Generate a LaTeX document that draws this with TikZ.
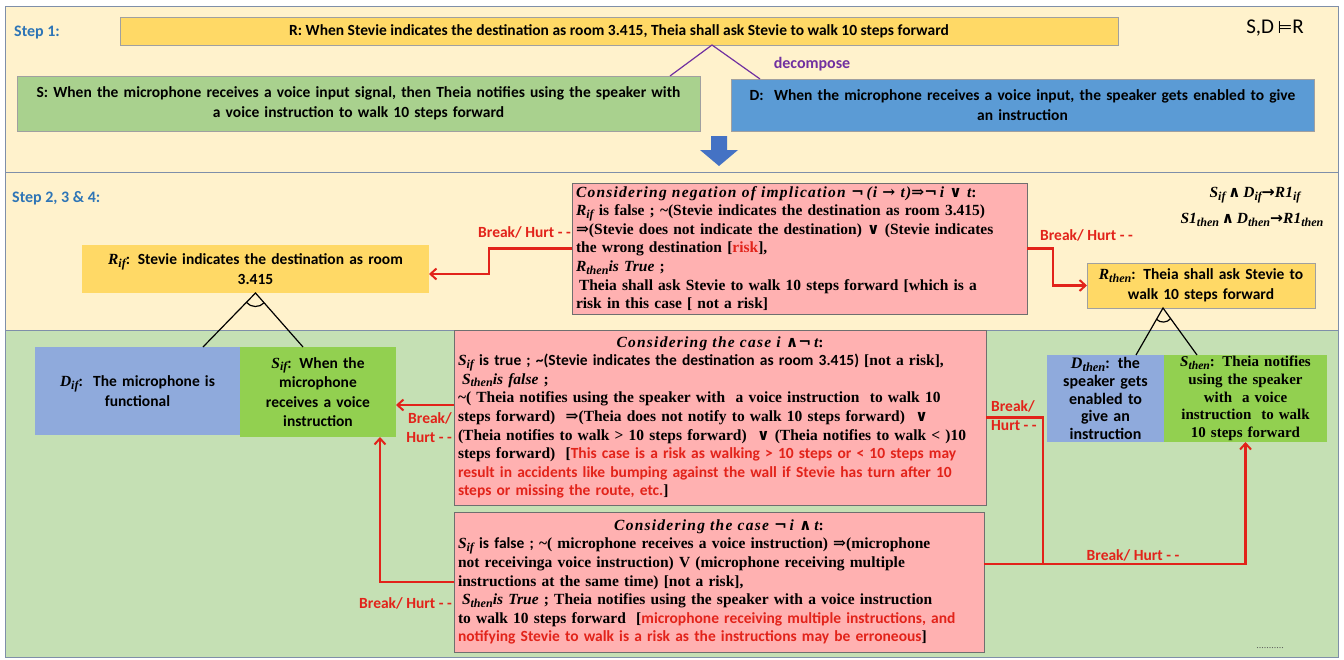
\documentclass[tikz,border=0pt]{standalone}
\usepackage{fontspec}
\usepackage{graphicx}
\setmainfont{Liberation Serif}
\newfontfamily\calib{Carlito}
\newfontfamily\djv{DejaVu Sans}
\newfontfamily\djs{DejaVu Serif}
\usetikzlibrary{arrows.meta,calc}
\definecolor{paneY}{HTML}{FFF2CC}
\definecolor{paneG}{HTML}{C5E0B4}
\definecolor{paneEdge}{HTML}{7F8FA9}
\definecolor{yelbox}{HTML}{FFD966}
\definecolor{grnS}{HTML}{A9D18E}
\definecolor{bluD}{HTML}{5B9BD5}
\definecolor{bluD2}{HTML}{8FAADC}
\definecolor{grn2}{HTML}{92D050}
\definecolor{pinkb}{HTML}{FFB1B1}
\definecolor{redc}{HTML}{E2231A}
\definecolor{stepblue}{HTML}{2E75B6}
\definecolor{purp}{HTML}{7030A0}
\definecolor{arrblue}{HTML}{4472C4}
\definecolor{boxedge}{HTML}{A0A0A0}
\definecolor{pinkedge}{HTML}{6F6F6F}
\newcommand\sansB{\calib\bfseries\fontsize{15.5}{19.5}\selectfont}
\newcommand\serB{\bfseries\fontsize{15.5}{18.6}\selectfont}
\newcommand\lblfont{\calib\bfseries\fontsize{15.5}{19}\selectfont}
\newcommand\ttl{\itshape\addfontfeature{LetterSpace=8}}
\newcommand\vv[2]{{\rmfamily\bfseries\itshape #1\raisebox{-0.35ex}{\scalebox{0.78}{#2}}}}
\newcommand\sy[1]{{\djs #1}}
\tikzset{
  panel/.style={draw=paneEdge, line width=0.8pt},
  box/.style={inner sep=3pt, outer sep=0pt, align=center, font=\sansB},
  pinkbox/.style={draw=pinkedge, fill=pinkb, line width=0.8pt, inner xsep=4pt, inner ysep=1pt, outer sep=0pt, align=left, font=\serB},
  redline/.style={draw=redc, line width=2.2pt},
  redarrow/.style={redline, -{Straight Barb[length=6pt,width=11pt,line width=2pt]}},
  lbl/.style={text=redc, font=\lblfont, inner sep=0pt},
  tri/.style={draw=black, line width=1.2pt},
  steplbl/.style={text=stepblue, font=\calib\bfseries\fontsize{16}{18}\selectfont, anchor=west, inner sep=0pt},
  formula/.style={font=\bfseries\fontsize{15.5}{17}\selectfont, inner sep=0pt}
}
\begin{document}
\begin{tikzpicture}[x=1pt,y=-1pt]
\useasboundingbox (0,0) rectangle (1344,659);
% panels
\draw[panel, fill=paneY] (5,6) rectangle (1338,172);
\draw[panel, fill=paneY] (5,172) rectangle (1338,330);
\draw[panel, fill=paneG] (5,330) rectangle (1338,657);

% ---------- Step 1 ----------
\node[steplbl] (st1) at (14,33) {Step 1:};
\node[box, draw=boxedge, line width=0.6pt, fill=yelbox, minimum width=998pt, minimum height=28pt] (R) at (619,31)
  {R: When Stevie indicates the destination as room 3.415, Theia shall ask Stevie to walk 10 steps forward};
\node[font=\calib\fontsize{21}{23}\selectfont, inner sep=0pt] (SDR) at (1275,28) {S,D\,{\djv\fontsize{17}{20}\selectfont ⊨}R};
\node[box, draw=boxedge, line width=0.6pt, fill=grnS, minimum width=683pt, minimum height=55pt, text width=677pt] (S) at (358.5,103.5)
  {S: When the microphone receives a voice input signal, then Theia notifies using the speaker with\\ a voice instruction to walk 10 steps forward};
\node[box, draw=boxedge, line width=0.6pt, fill=bluD, minimum width=583pt, minimum height=52pt, text width=577pt] (D) at (1022.5,105)
  {D:\ \ When the microphone receives a voice input, the speaker gets enabled to give\\ an instruction};
\node[text=purp, font=\calib\bfseries\fontsize{16}{18}\selectfont, inner sep=0pt] (dec) at (812,64) {decompose};
\draw[purp, line width=1.2pt] ([xshift=-30pt]S.north east) -- ([xshift=93pt]R.south) -- ([xshift=29pt]D.north west);
\fill[arrblue] (711,136) -- (727,136) -- (727,150) -- (738,150) -- (719,166) -- (700,150) -- (711,150) -- cycle;

% ---------- Step 2 ----------
\node[steplbl] (st2) at (12,198) {Step 2, 3 \& 4:};
\node[pinkbox, minimum width=455pt, minimum height=131pt, text width=447pt] (N) at (799.5,248.5)
  {{\ttl Considering negation of implication \sy{¬}\,(i \sy{→} t)\sy{⇒}\sy{¬}\,i \sy{∨} t}:\\
   \vv{R}{if} is false ; \textasciitilde(Stevie indicates the destination as room 3.415)\\
   \sy{⇒}(Stevie does not indicate the destination) \sy{∨} (Stevie indicates\\
   the wrong destination [{\color{redc}risk}],\\
   \vv{R}{then}{\itshape is True} ;\\
   \hspace*{3pt}Theia shall ask Stevie to walk 10 steps forward [which is a\\
   risk in this case [ not a risk]};
\node[box, fill=yelbox, minimum width=347pt, minimum height=48pt, text width=341pt] (Rif) at (255.5,269)
  {\vv{R}{if}: Stevie indicates the destination as room\\3.415};
\node[box, draw=boxedge, line width=0.6pt, fill=yelbox, minimum width=228pt, minimum height=45pt, text width=222pt] (Rthen) at (1201,285.5)
  {\vv{R}{then}: Theia shall ask Stevie to\\walk 10 steps forward};
\node[formula] (f1) at (1255,195) {\vv{S}{if}\,\sy{∧}\,\vv{D}{if}{\djv →}\vv{R1}{if}};
\node[formula] (f2) at (1252,220) {\vv{S1}{then}\,\sy{∧}\,\vv{D}{then}{\djv →}\vv{R1}{then}};

% ---------- Step 3/4 (green) ----------
\node[box, fill=bluD2, minimum width=205pt, minimum height=88pt, text width=199pt] (Dif) at (137.5,391)
  {\vv{D}{if}:\ \ The microphone is\\functional};
\node[box, fill=grn2, minimum width=156pt, minimum height=90pt, text width=152pt, inner sep=2pt] (Sif) at (318,392)
  {\vv{S}{if}: When the\\microphone\\receives a voice\\instruction};
\node[pinkbox, minimum width=532pt, minimum height=175pt, text width=524pt] (B2) at (720,417.5)
  {\makebox[524pt]{{\ttl Considering the case i \sy{∧}\sy{¬}\,t}:}\\
   \vv{S}{if} {\calib is true ; \textasciitilde(Stevie indicates the destination as room 3.415)} [not a risk],\\
   \hspace*{4pt}\vv{S}{then}{\itshape is false} ;\\
   \textasciitilde( Theia notifies using the speaker with\ \ a voice instruction\ \ to walk 10\\
   steps forward)\ \ \sy{⇒}(Theia does not notify to walk 10 steps forward)\ \ \sy{∨}\\
   (Theia notifies to walk > 10 steps forward)\ \ \sy{∨} (Theia notifies to walk < )10\\
   steps forward)\ \ [{\calib\color{redc}This case is a risk as walking > 10 steps or < 10 steps may}\\
   {\calib\color{redc}result in accidents like bumping against the wall if Stevie has turn after 10}\\
   {\calib\color{redc}steps or missing the route, etc.}]};
\node[pinkbox, minimum width=530pt, minimum height=140pt, text width=522pt] (B3) at (719,582)
  {\makebox[522pt]{{\ttl Considering the case \sy{¬}\,i \sy{∧}\,t}:}\\
   \vv{S}{if} {\calib is false ;} \textasciitilde( microphone receives a voice instruction) \sy{⇒}(microphone\\
   not receivinga voice instruction) V\ (microphone receiving multiple\\
   instructions at the same time) [not a risk],\\
   \hspace*{4pt}\vv{S}{then}{\itshape is True} ; Theia notifies using the speaker with a voice instruction\\
   to walk 10 steps forward\ \ [{\calib\color{redc}microphone receiving multiple instructions, and}\\
   {\calib\color{redc}notifying Stevie to walk is a risk as the instructions may be erroneous}]};
\node[box, fill=bluD2, minimum width=117pt, minimum height=87pt, text width=115pt, inner sep=1pt, font=\calib\bfseries\fontsize{16}{17.8}\selectfont] (Dthen) at (1105.5,398.5)
  {\vv{D}{then}: the\\speaker gets\\enabled to\\give an\\instruction};
\node[box, fill=grn2, minimum width=163pt, minimum height=87pt, text width=161pt, inner sep=1pt, font=\bfseries\fontsize{15}{17.8}\selectfont] (Sthen) at (1245.5,398.5)
  {\vv{S}{then}: Theia notifies\\using the speaker\\with\ \ a voice\\instruction\ \ to walk\\10 steps forward};
\node[text=black!65, font=\fontsize{10}{10}\selectfont, inner sep=0pt] (dots) at (1270,648) {...........};

% ---------- AND-decompositions ----------
\coordinate (ifL) at ([xshift=-37pt]Dif.north east);
\coordinate (ifR) at ([xshift=-15pt]Sif.north);
\draw[tri] (ifL) -- (Rif.south) -- (ifR);
\draw[tri] ($(Rif.south)!13pt!(ifL)$) to[bend right=50] ($(Rif.south)!13pt!(ifR)$);
\coordinate (thA) at ([xshift=-38pt]Rthen.south);
\coordinate (thL) at ([xshift=30.5pt]Dthen.north);
\coordinate (thR) at ([xshift=-48.5pt]Sthen.north);
\draw[tri] (thL) -- (thA) -- (thR);
\draw[tri] ($(thA)!13pt!(thL)$) to[bend right=50] ($(thA)!13pt!(thR)$);

% ---------- Break / Hurt arrows ----------
\draw[redarrow] (N.west) -- ++(-83,0) |- ([yshift=-5pt]Rif.east);
\draw[redarrow] (N.east) -- ++(26,0) |- (Rthen.west);
\draw[redarrow] ([yshift=12.5pt]B2.west) -- ([yshift=12.5pt]B2.west -| Sif.east);
\draw[redarrow] (B3.west) -| ([xshift=62pt]Sif.south);
\coordinate (jn) at (1043,564);
\draw[redline] (B2.east) -| (jn);
\draw[redarrow] ([yshift=18pt]B3.east) -| (Sthen.south);

\node[lbl, anchor=east] (l1) at (571,232) {Break/ Hurt - -};
\node[lbl, anchor=west] (l2) at (1040,235) {Break/ Hurt - -};
\node[lbl, align=right, anchor=east] (l3) at (452,428) {Break/\\Hurt - -};
\node[lbl, align=left, anchor=west] (l4) at (991,416) {Break/\\Hurt - -};
\node[lbl] (l5) at (1133,555) {Break/ Hurt - -};
\node[lbl, anchor=east] (l6) at (452,603) {Break/ Hurt - -};
\end{tikzpicture}
\end{document}
